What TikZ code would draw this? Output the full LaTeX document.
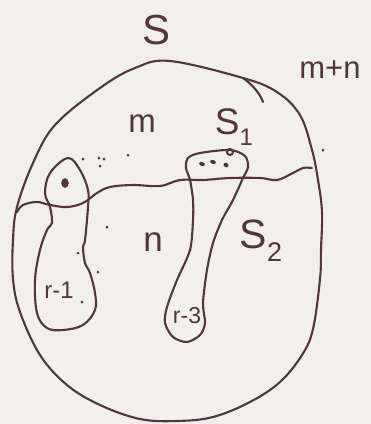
\documentclass[tikz,border=0pt]{standalone}
\usepackage{fontspec}
\setmainfont{Liberation Sans}
\definecolor{paper}{HTML}{F1F0EE}
\definecolor{ink}{HTML}{553636}
\newcommand{\subsc}[2]{\raisebox{-0.32em}{\fontsize{#1}{#1}\selectfont #2}}
\tikzset{
  pen/.style={draw=ink, line width=2.1pt, line cap=round, line join=round},
  lbl/.style={text=ink, inner sep=0pt},
  inkdot/.style={fill=ink, draw=none}
}
\begin{document}
\begin{tikzpicture}[x=1pt,y=-1pt]
\fill[paper] (0,0) rectangle (371,424);
\useasboundingbox (0,0) rectangle (371,424);
% outer set
\draw[pen] plot[smooth cycle, tension=0.6] coordinates {(170,61) (243,78) (277,92) (300,115) (312,150) (318,180) (322,212) (321,250) (320,279) (313,329) (302,355) (280,382) (250,402) (213,417) (177,421) (140,419) (100,405) (67,385) (40,355) (20,312) (13,279) (13,240) (17,207) (33,163) (55,125) (100,88) (135,68)};
% tick
\draw[pen] (243,78) .. controls (254,86) and (260,94) .. (263,102);
% wavy dividing line
\draw[pen] plot[smooth, tension=0.6] coordinates {(17,212) (23,205) (37,202) (50,205) (67,207) (83,203) (97,193) (110,187) (133,185) (160,186) (180,180) (203,180) (230,178) (260,178) (277,180) (293,173) (303,168) (312,168)};
% left blob
\draw[pen] plot[smooth cycle, tension=0.6] coordinates {(68,158) (80,170) (88,190) (88,207) (85,240) (83,247) (85,263) (90,273) (95,293) (95,310) (83,325) (63,330) (47,328) (37,313) (35,280) (40,250) (47,230) (52,223) (50,207) (45,193) (50,173)};
% right blob
\draw[pen] plot[smooth cycle, tension=0.5] coordinates {(188,158) (200,153) (230,150) (245,156) (248,167) (243,178) (233,200) (222,220) (213,243) (207,270) (203,303) (205,323) (200,335) (187,342) (173,337) (165,323) (167,307) (177,280) (190,250) (193,220) (193,200) (190,180) (186,168)};
\draw[pen] (230,152) circle (3);
% dots
\fill[inkdot] (65,183) ellipse (3.8 and 4.8);
\fill[inkdot, rotate around={-20:(202,164)}] (202,164) ellipse (3 and 2);
\fill[inkdot, rotate around={-20:(213,162)}] (213,162) ellipse (3 and 2);
\fill[inkdot, rotate around={-30:(226,165)}] (226,165) ellipse (2.7 and 2.2);
\foreach \p in {(83,159),(99,158),(104,159),(100,166),(128,155),(107,227),(78,253),(98,272),(82,302),(190,250),(323,150)}
  \fill[inkdot] \p circle (1.5);
% labels
\node[lbl, font=\fontsize{42}{44}\selectfont] (S) at (157,30) {S};
\node[lbl, font=\fontsize{31}{32}\selectfont] (mn) at (330,70) {m+n};
\node[lbl, font=\fontsize{33}{34}\selectfont] (m) at (142,124) {m};
\node[lbl, font=\fontsize{37}{38}\selectfont] (S1) at (234,127) {S\subsc{24}{1}};
\node[lbl, font=\fontsize{35}{36}\selectfont] (n) at (153,242) {n};
\node[lbl, font=\fontsize{41}{42}\selectfont] (S2) at (261,241) {S\subsc{27}{2}};
\node[lbl, font=\fontsize{24}{25}\selectfont] (r1) at (59,290) {r-1};
\node[lbl, font=\fontsize{23}{24}\selectfont] (r3) at (187,316) {r-3};
\end{tikzpicture}
\end{document}
